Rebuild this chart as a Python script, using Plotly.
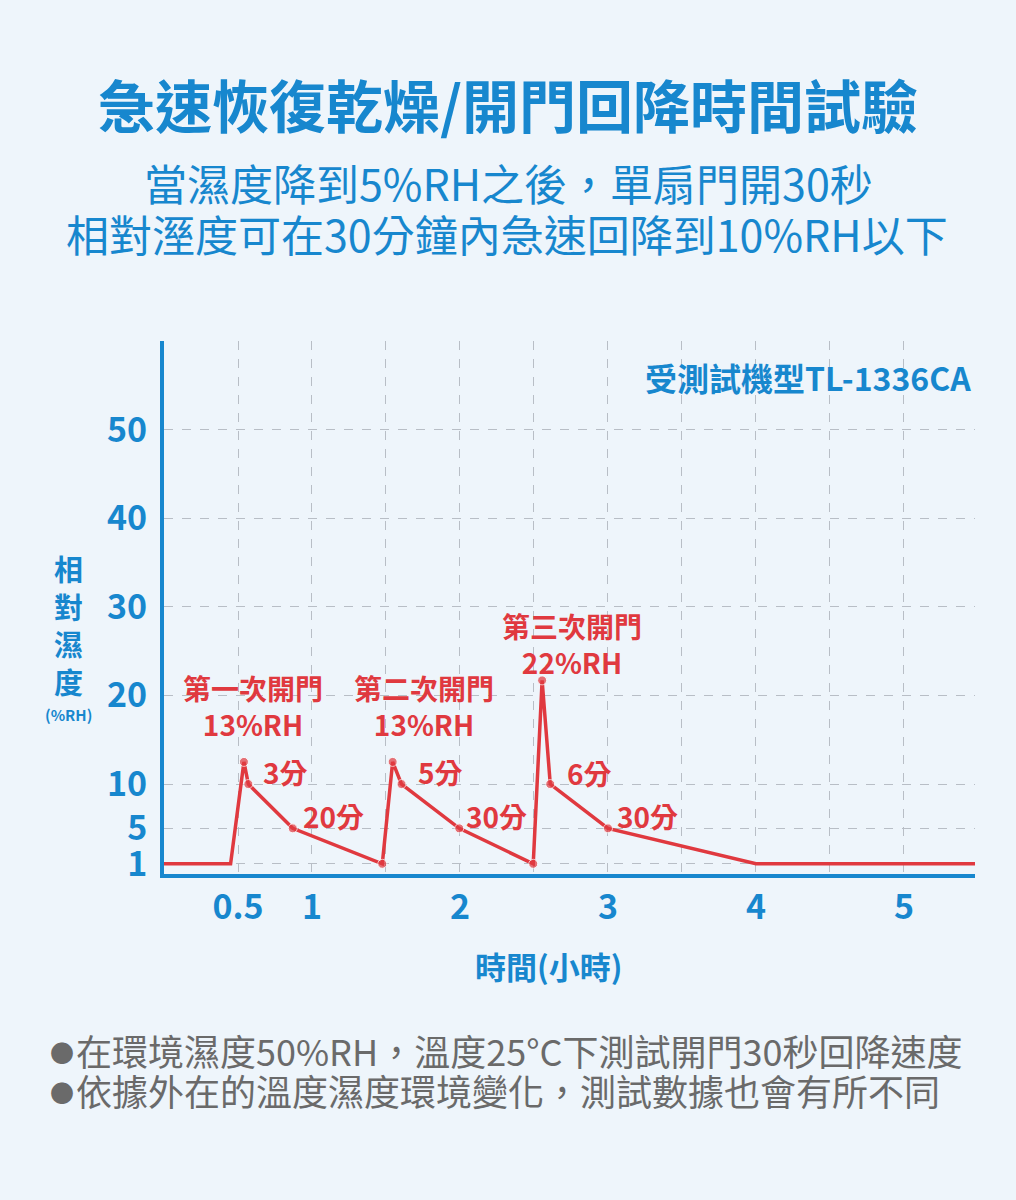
import plotly.graph_objects as go

# humidity test data (hours vs %RH)
hours = [0, 0.45, 0.54, 0.57, 0.87, 1.475, 1.545, 1.605, 1.995, 2.495, 2.555, 2.61, 3.0, 4.0, 5.48]
rh = [1, 1, 12.5, 10, 5, 1, 12.5, 10, 5, 1, 21.7, 10, 5, 1, 1]
marker_sizes = [0, 0, 9, 9, 9, 9, 9, 9, 9, 9, 9, 9, 9, 0, 0]

x_tickvals = [0.5, 1, 1.5, 2, 2.5, 3, 3.5, 4, 4.5, 5]
x_ticktext = ["0.5", "1", "", "2", "", "3", "", "4", "", "5"]
y_tickvals = [1, 5, 10, 20, 30, 40, 50]
y_ticktext = ["1", "5", "10", "20", "30", "40", "50"]

# door-opening labels: (x, y, text)
peak_labels = [
    (0.60, 18.8, "第一次開門<br>13%RH"),
    (1.757, 18.8, "第二次開門<br>13%RH"),
    (2.757, 25.8, "第三次開門<br>22%RH"),
]
minute_labels = [
    (0.818, 11.4, "3分"),
    (1.142, 6.4, "20分"),
    (1.865, 11.4, "5分"),
    (2.25, 6.4, "30分"),
    (2.878, 11.2, "6分"),
    (3.264, 6.4, "30分"),
]

notes = [
    "在環境濕度50%RH，溫度25°C下測試開門30秒回降速度",
    "依據外在的溫度濕度環境變化，測試數據也會有所不同",
]

BLUE = "#1787CE"
RED = "#E0393F"
GRAY = "#6A6A6A"
BG = "#EEF5FB"
FONT = "Noto Sans CJK TC"

W, H = 1016, 1200
L, R, T, B = 164, 41, 341, 326


def px_x(px):
    return (px - L) / (W - L - R)


def px_y(py):
    return (H - B - py) / (H - T - B)


fig = go.Figure()
fig.add_trace(go.Scatter(
    x=hours, y=rh, mode="lines+markers",
    line=dict(color=RED, width=3.5),
    marker=dict(color=RED, size=marker_sizes),
    hoverinfo="skip", showlegend=False,
))

annotations = []
for x, y, t in peak_labels + minute_labels:
    annotations.append(dict(x=x, y=y, xref="x", yref="y", text=t, showarrow=False,
                            font=dict(family=FONT, size=28, color=RED, weight=700)))

# titles and notes outside the plot area
outer = [
    dict(x=px_x(508), y=px_y(103), text="急速恢復乾燥/開門回降時間試驗",
         font=dict(family=FONT, size=57, color=BLUE, weight=700)),
    dict(x=px_x(508), y=px_y(182), text="當濕度降到5%RH之後，單扇門開30秒",
         font=dict(family=FONT, size=43, color=BLUE)),
    dict(x=px_x(507), y=px_y(233), text="相對溼度可在30分鐘內急速回降到10%RH以下",
         font=dict(family=FONT, size=43, color=BLUE)),
    dict(x=px_x(973), y=px_y(377), xanchor="right", text="受測試機型TL-1336CA",
         font=dict(family=FONT, size=32, color=BLUE, weight=700)),
    dict(x=px_x(68), y=px_y(624), text="相<br>對<br>濕<br>度",
         font=dict(family=FONT, size=29, color=BLUE, weight=700)),
    dict(x=px_x(68), y=px_y(714), text="(%RH)",
         font=dict(family=FONT, size=15, color=BLUE, weight=700)),
    dict(x=px_x(548), y=px_y(965), text="時間(小時)",
         font=dict(family=FONT, size=31, color=BLUE, weight=700)),
]
for i, note in enumerate(notes):
    py = 1050 + 40 * i
    outer.append(dict(x=px_x(62), y=px_y(py + 1), text="●",
                      font=dict(family=FONT, size=24, color=GRAY)))
    outer.append(dict(x=px_x(74), y=px_y(py), xanchor="left", text=note,
                      font=dict(family=FONT, size=36, color=GRAY)))
for a in outer:
    a.update(xref="paper", yref="paper", showarrow=False, yanchor="middle")
    a.setdefault("xanchor", "center")
annotations += outer

fig.update_layout(
    width=W, height=H,
    margin=dict(l=L, r=R, t=T, b=B),
    paper_bgcolor=BG, plot_bgcolor=BG,
    annotations=annotations,
    xaxis=dict(
        range=[0, 5.48], tickvals=x_tickvals, ticktext=x_ticktext,
        showline=True, linecolor=BLUE, linewidth=4,
        showgrid=True, gridcolor="#B8BEC6", griddash="dash", gridwidth=1,
        zeroline=False, ticks="", ticklabelstandoff=0,
        tickfont=dict(family=FONT, size=34, color=BLUE, weight=700),
    ),
    yaxis=dict(
        range=[-0.15, 60], tickvals=y_tickvals, ticktext=y_ticktext,
        showline=True, linecolor=BLUE, linewidth=4,
        showgrid=True, gridcolor="#B8BEC6", griddash="dash", gridwidth=1,
        zeroline=False, ticks="", ticklabelstandoff=6,
        tickfont=dict(family=FONT, size=34, color=BLUE, weight=700),
    ),
)

# drop the default page margin so the figure fills the window
fig.write_html("out.html", config={"displayModeBar": False},
               post_script="document.body.style.margin='0';")
